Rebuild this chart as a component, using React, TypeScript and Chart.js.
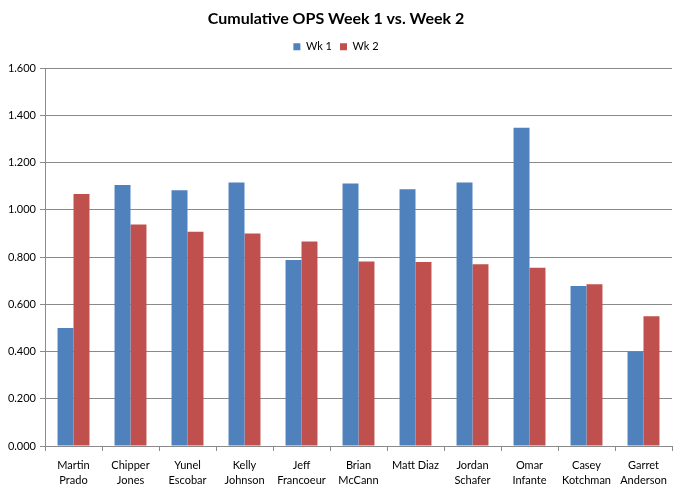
import React, { useEffect, useRef } from "react";
import { Chart, registerables } from "chart.js";

Chart.register(...registerables);

const categories: string[][] = [
  ["Martin", "Prado"],
  ["Chipper", "Jones"],
  ["Yunel", "Escobar"],
  ["Kelly", "Johnson"],
  ["Jeff", "Francoeur"],
  ["Brian", "McCann"],
  ["Matt Diaz"],
  ["Jordan", "Schafer"],
  ["Omar", "Infante"],
  ["Casey", "Kotchman"],
  ["Garret", "Anderson"],
];
const wk1: number[] = [0.5, 1.105, 1.083, 1.116, 0.788, 1.112, 1.087, 1.116, 1.348, 0.678, 0.4];
const wk2: number[] = [1.067, 0.938, 0.907, 0.9, 0.866, 0.781, 0.779, 0.77, 0.755, 0.685, 0.55];
const seriesNames = ["Wk 1", "Wk 2"];
const titleText = "Cumulative OPS Week 1 vs. Week 2";

const FONT = "Lato, 'Open Sans', sans-serif";
const GRID = "#8a8a8a";

const legendMargin = {
  id: "legendMargin",
  beforeInit(chart: any) {
    const orig = chart.legend.fit;
    chart.legend.fit = function () {
      orig.bind(chart.legend)();
      this.height += 6;
    };
  },
};

export default function App() {
  const ref = useRef<HTMLCanvasElement>(null);
  useEffect(() => {
    document.body.style.margin = "0";
    const ctx = ref.current!;
    const chart = new Chart(ctx, {
      type: "bar",
      data: {
        labels: categories,
        datasets: [
          { label: seriesNames[0], data: wk1, backgroundColor: "#4F81BD", borderWidth: 0 },
          { label: seriesNames[1], data: wk2, backgroundColor: "#C0504D", borderWidth: 0 },
        ],
      },
      plugins: [legendMargin],
      options: {
        animation: false,
        responsive: false,
        devicePixelRatio: 1,
        layout: { padding: { left: 0, right: 8, top: 0, bottom: 0 } },
        datasets: { bar: { barPercentage: 1, categoryPercentage: 0.56 } },
        plugins: {
          title: {
            display: true,
            text: titleText,
            color: "#000",
            font: { family: FONT, size: 16, weight: "bold" },
            padding: { top: 9, bottom: 5 },
          },
          legend: {
            display: true,
            position: "top",
            labels: {
              boxWidth: 7,
              boxHeight: 7,
              color: "#000",
              font: { family: FONT, size: 11 },
              padding: 8,
            },
          },
          tooltip: { enabled: false },
        },
        scales: {
          x: {
            offset: true,
            grid: {
              display: true,
              offset: true,
              drawOnChartArea: false,
              drawTicks: true,
              tickLength: 5,
              color: GRID,
            },
            border: { display: true, color: GRID },
            ticks: {
              color: "#000",
              font: { family: FONT, size: 11, lineHeight: 1.45 },
              padding: 6,
              maxRotation: 0,
              autoSkip: false,
            },
            afterFit: (s: any) => {
              s.height = 49;
            },
          },
          y: {
            min: 0,
            max: 1.6,
            ticks: {
              stepSize: 0.2,
              color: "#000",
              font: { family: FONT, size: 11 },
              padding: 4,
              callback: (v: any) => Number(v).toFixed(3),
            },
            grid: { color: GRID, tickLength: 5 },
            border: { display: true, color: GRID },
            afterFit: (s: any) => {
              s.width = 45;
            },
          },
        },
      },
    });
    return () => chart.destroy();
  }, []);
  return (
    <div style={{ position: "fixed", left: 0, top: 0, width: 680, height: 495, background: "#fff" }}>
      <canvas ref={ref} width={680} height={495} style={{ width: 680, height: 495 }} />
    </div>
  );
}
